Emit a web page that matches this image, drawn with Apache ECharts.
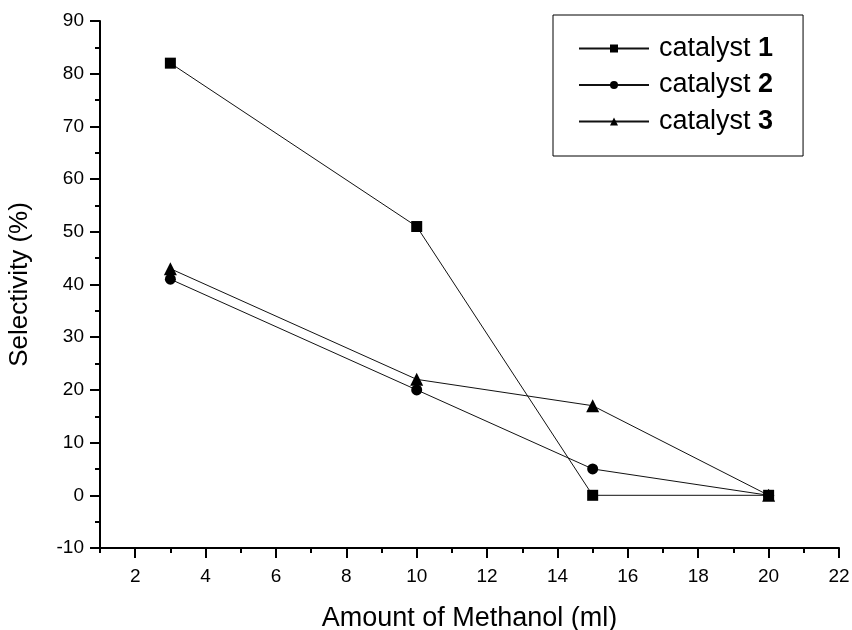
<!DOCTYPE html>
<html>
<head>
<meta charset="utf-8">
<script src="https://cdn.jsdelivr.net/npm/echarts@6/dist/echarts.min.js"></script>
<style>
  html, body { margin: 0; padding: 0; background: #fff; }
  #chart { width: 852px; height: 630px; }
</style>
</head>
<body>
<div id="chart"></div>
<script>
// methanol amount (ml)
const methanol = [3, 10, 15, 20];
// selectivity (%)
const catalyst1 = [82, 51, 0, 0];
const catalyst2 = [41, 20, 5, 0];
const catalyst3 = [43, 22, 17, 0];
const seriesNames = ["catalyst 1", "catalyst 2", "catalyst 3"];
const xTickValues = [2, 4, 6, 8, 10, 12, 14, 16, 18, 20, 22];

const FONT = "Liberation Sans";

document.addEventListener("DOMContentLoaded", function () {
    let chart = echarts.init(document.getElementById("chart"));

    function pairs(ys) {
        return methanol.map((x, i) => [x, ys[i]]);
    }

    function makeSeries(name, ys, symbol, size) {
        return {
            name: name,
            type: "line",
            xAxisIndex: 0,
            data: pairs(ys),
            symbol: symbol,
            symbolSize: size,
            showAllSymbol: true,
            lineStyle: { color: "#111", width: 1 },
            itemStyle: { color: "#000" },
            z: 3
        };
    }

    let option = {
        animation: false,
        backgroundColor: "#fff",
        textStyle: { fontFamily: FONT },
        legend: {
            data: seriesNames,
            orient: "vertical",
            left: 553,
            top: 15,
            padding: [20, 30, 21, 25],
            itemGap: 9.5,
            itemWidth: 70,
            itemHeight: 10,
            borderColor: "#000",
            borderWidth: 1,
            formatter: function (name) {
                let parts = name.split(" ");
                return "{a|" + parts[0] + " }{b|" + parts[1] + "}";
            },
            textStyle: {
                padding: [0, 0, 0, 5],
                rich: {
                    a: { fontFamily: FONT, fontSize: 27, color: "#000", lineHeight: 28 },
                    b: { fontFamily: FONT, fontSize: 27, fontWeight: "bold", color: "#000", lineHeight: 28 }
                }
            }
        },
        grid: {
            left: 100,
            right: 13,
            top: 21,
            bottom: 82,
            outerBoundsMode: "none"
        },
        xAxis: [
            {
                type: "value",
                min: 1,
                max: 22,
                name: "Amount of Methanol (ml)",
                nameLocation: "middle",
                nameGap: 57,
                nameTextStyle: { fontFamily: FONT, fontSize: 27, color: "#000" },
                splitLine: { show: false },
                axisLine: { onZero: false, lineStyle: { color: "#000", width: 2 } },
                axisTick: {
                    customValues: xTickValues,
                    length: 10,
                    lineStyle: { color: "#000", width: 2 }
                },
                axisLabel: {
                    customValues: xTickValues,
                    fontFamily: FONT,
                    fontSize: 19,
                    color: "#000",
                    margin: 19
                }
            },
            {
                type: "value",
                min: 1,
                max: 22,
                interval: 1,
                position: "bottom",
                splitLine: { show: false },
                axisLine: { show: false, onZero: false },
                axisTick: { length: 5, lineStyle: { color: "#000", width: 2 } },
                axisLabel: { show: false }
            }
        ],
        yAxis: {
            type: "value",
            min: -10,
            max: 90,
            interval: 10,
            name: "Selectivity (%)",
            nameLocation: "middle",
            nameGap: 67,
            nameTextStyle: { fontFamily: FONT, fontSize: 26, color: "#000" },
            splitLine: { show: false },
            axisLine: { show: true, lineStyle: { color: "#000", width: 2 } },
            axisTick: { show: true, length: 10, lineStyle: { color: "#000", width: 2 } },
            minorTick: { show: true, splitNumber: 2, length: 5, lineStyle: { color: "#000", width: 2 } },
            axisLabel: {
                fontFamily: FONT,
                fontSize: 19,
                color: "#000",
                margin: 16
            }
        },
        series: [
            makeSeries(seriesNames[0], catalyst1, "rect", 11),
            makeSeries(seriesNames[1], catalyst2, "circle", 11),
            makeSeries(seriesNames[2], catalyst3, "triangle", 13)
        ]
    };
    chart.setOption(option);
});
</script>
</body>
</html>
